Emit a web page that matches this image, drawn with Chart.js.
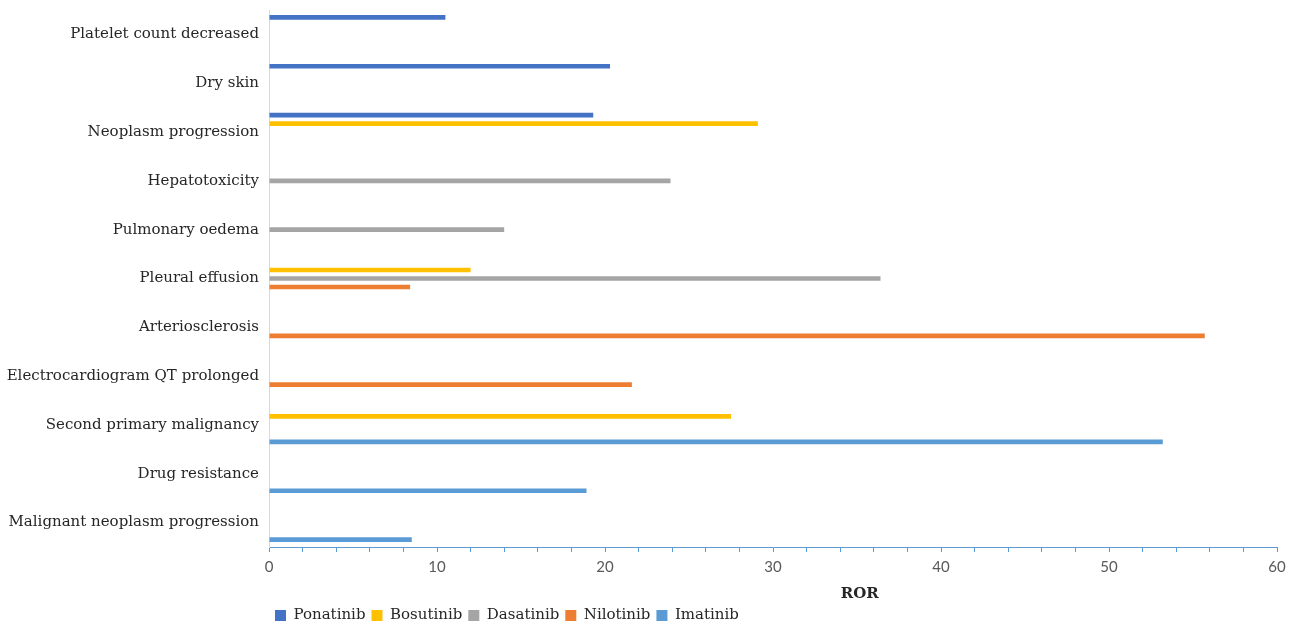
<!DOCTYPE html>
<html>
<head>
<meta charset="utf-8">
<script src="https://cdn.jsdelivr.net/npm/chart.js@4.4.1/dist/chart.umd.min.js"></script>
<style>
  body { margin: 0; background: #fff; }
  #wrap { width: 1296px; height: 628px; }
</style>
</head>
<body>
<div id="wrap"><canvas id="rorChart"></canvas></div>
<script>
// categories, top to bottom
const categories = [
    'Platelet count decreased',
    'Dry skin',
    'Neoplasm progression',
    'Hepatotoxicity',
    'Pulmonary oedema',
    'Pleural effusion',
    'Arteriosclerosis',
    'Electrocardiogram QT prolonged',
    'Second primary malignancy',
    'Drug resistance',
    'Malignant neoplasm progression'
];

// ROR values per drug (null = no bar)
const ponatinib = [10.5, 20.3, 19.3, null, null, null, null, null, null, null, null];
const bosutinib = [null, null, 29.1, null, null, 12.0, null, null, 27.5, null, null];
const dasatinib = [null, null, null, 23.9, 14.0, 36.4, null, null, null, null, null];
const nilotinib = [null, null, null, null, null, 8.4, 55.7, 21.6, null, null, null];
const imatinib  = [null, null, null, null, null, null, null, null, 53.2, 18.9, 8.5];

const xTicksMajor = [0, 10, 20, 30, 40, 50, 60];

const serif = 'DejaVu Serif';

// x-axis title drawn a bit right of centre, like the original
const axisTitle = {
    id: 'axisTitle',
    afterDraw(chart) {
        const x = chart.scales.x;
        const ctx = chart.ctx;
        ctx.save();
        ctx.font = 'bold 15px "' + serif + '"';
        ctx.fillStyle = '#262626';
        ctx.textAlign = 'center';
        ctx.textBaseline = 'middle';
        ctx.fillText('ROR', x.left + (x.right - x.left) * 0.586, x.top + 47);
        ctx.restore();
    }
};

const ctx = document.getElementById('rorChart').getContext('2d');
const rorChart = new Chart(ctx, {
    type: 'bar',
    data: {
        labels: categories,
        datasets: [
            { label: 'Ponatinib', data: ponatinib, backgroundColor: '#4472C4' },
            { label: 'Bosutinib', data: bosutinib, backgroundColor: '#FFC000' },
            { label: 'Dasatinib', data: dasatinib, backgroundColor: '#A5A5A5' },
            { label: 'Nilotinib', data: nilotinib, backgroundColor: '#ED7D31' },
            { label: 'Imatinib', data: imatinib, backgroundColor: '#5B9BD5' }
        ]
    },
    options: {
        indexAxis: 'y',
        responsive: true,
        maintainAspectRatio: false,
        animation: false,
        categoryPercentage: 0.87,
        barPercentage: 0.55,
        layout: { padding: { top: 0, right: 19, left: 0, bottom: -5 } },
        scales: {
            x: {
                min: 0,
                max: 60,
                ticks: {
                    stepSize: 2,
                    autoSkip: false,
                    maxRotation: 0,
                    padding: 6,
                    color: '#595959',
                    font: { family: 'Lato', size: 15 },
                    callback: (v) => xTicksMajor.includes(v) ? v : ''
                },
                grid: { drawOnChartArea: false, tickLength: 5, color: '#5B9BD5' },
                border: { color: '#5B9BD5', width: 1 },
                afterFit: (s) => { s.height = 55; }
            },
            y: {
                ticks: {
                    padding: 10,
                    color: '#262626',
                    font: { family: serif, size: 15 }
                },
                grid: { drawOnChartArea: false, drawTicks: false, color: '#D9D9D9' },
                border: { color: '#D9D9D9', width: 1 },
                afterFit: (s) => { s.width = 269; s.paddingTop = 10; s.paddingBottom = 0; }
            }
        },
        plugins: {
            legend: {
                position: 'bottom',
                align: 'start',
                fullSize: false,
                labels: {
                    boxWidth: 11,
                    boxHeight: 11,
                    padding: 6,
                    color: '#262626',
                    font: { family: serif, size: 15 }
                }
            },
            tooltip: { enabled: false }
        }
    },
    plugins: [axisTitle]
});
</script>
</body>
</html>
